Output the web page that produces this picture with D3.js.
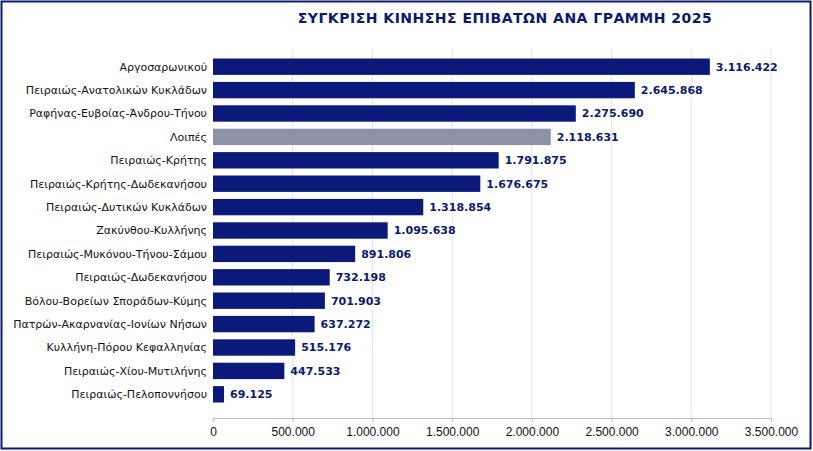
<!DOCTYPE html>
<html><head><meta charset="utf-8">
<script src="https://cdn.jsdelivr.net/npm/d3@7"></script>
<style>body{margin:0;background:#fff}svg{font-family:"DejaVu Sans",sans-serif}</style>
</head><body>
<script>
var lines = ["Αργοσαρωνικού","Πειραιώς-Ανατολικών Κυκλάδων","Ραφήνας-Ευβοίας-Άνδρου-Τήνου","Λοιπές","Πειραιώς-Κρήτης","Πειραιώς-Κρήτης-Δωδεκανήσου","Πειραιώς-Δυτικών Κυκλάδων","Ζακύνθου-Κυλλήνης","Πειραιώς-Μυκόνου-Τήνου-Σάμου","Πειραιώς-Δωδεκανήσου","Βόλου-Βορείων Σποράδων-Κύμης","Πατρών-Ακαρνανίας-Ιονίων Νήσων","Κυλλήνη-Πόρου Κεφαλληνίας","Πειραιώς-Χίου-Μυτιλήνης","Πειραιώς-Πελοποννήσου"];
var passengers = [3116422,2645868,2275690,2118631,1791875,1676675,1318854,1095638,891806,732198,701903,637272,515176,447533,69125];
var ticks = [0,500000,1000000,1500000,2000000,2500000,3000000,3500000];

var fmt = d3.formatLocale({decimal:",",thousands:".",grouping:[3],currency:["","€"]}).format(",");
var svg = d3.select("body").append("svg").attr("width",813).attr("height",451);
svg.append("rect").attr("x",1.5).attr("y",1.5).attr("width",809).attr("height",447)
  .attr("fill","none").attr("stroke","#0b1a6e").attr("stroke-width",2);
svg.append("text").attr("x",505).attr("y",23).attr("text-anchor","middle")
  .attr("font-size",14).attr("font-weight","bold").attr("fill","#0b1a6e")
  .attr("letter-spacing",0.5).text("ΣΥΓΚΡΙΣΗ ΚΙΝΗΣΗΣ ΕΠΙΒΑΤΩΝ ΑΝΑ ΓΡΑΜΜΗ  2025");

var x = d3.scaleLinear().domain([0,3500000]).range([213,771]);
var y = d3.scaleBand().domain(lines).range([55,406]).paddingInner(0.3).paddingOuter(0.15);

svg.append("g").selectAll("line").data(ticks.slice(1)).enter().append("line")
  .attr("x1",x).attr("x2",x).attr("y1",48).attr("y2",418).attr("stroke","#dfe3ea");

var ax = svg.append("g").attr("transform","translate(0,418)")
  .call(d3.axisBottom(x).tickValues(ticks).tickFormat(fmt).tickSize(4));
ax.select(".domain").attr("stroke","#bbb");
ax.selectAll(".tick line").attr("stroke","#bbb");
ax.selectAll("text").attr("font-size",12).attr("fill","#111").attr("dy","0.9em");
svg.append("line").attr("x1",794).attr("x2",794).attr("y1",418).attr("y2",418);

svg.append("g").selectAll("rect").data(lines).enter().append("rect")
  .attr("x",x(0)).attr("y",function(d){return y(d);})
  .attr("width",function(d,i){return x(passengers[i])-x(0);})
  .attr("height",y.bandwidth())
  .attr("fill",function(d){return d==="Λοιπές"?"#8c93a8":"#0b1a7a";});

svg.append("g").selectAll("text").data(lines).enter().append("text")
  .attr("x",207).attr("y",function(d){return y(d)+y.bandwidth()/2;}).attr("dy","0.35em")
  .attr("text-anchor","end").attr("font-size",11).attr("fill","#111").text(function(d){return d;});

svg.append("g").selectAll("text").data(lines).enter().append("text")
  .attr("x",function(d,i){return x(passengers[i])+6;})
  .attr("y",function(d){return y(d)+y.bandwidth()/2;}).attr("dy","0.35em")
  .attr("font-size",11).attr("font-weight","bold").attr("fill","#0b1a6e")
  .text(function(d,i){return fmt(passengers[i]);});
</script>
</body></html>
